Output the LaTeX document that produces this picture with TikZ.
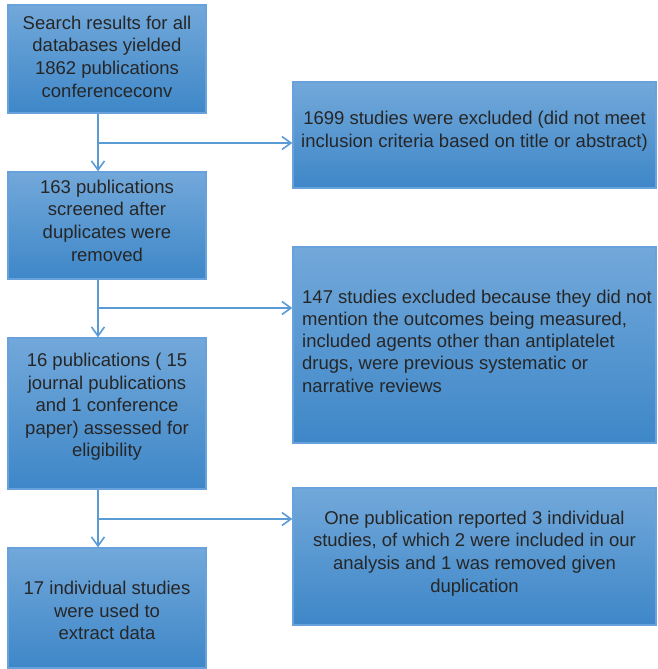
\documentclass[tikz,border=0pt]{standalone}
\usepackage{fontspec}
\setmainfont{Liberation Sans}
\usetikzlibrary{arrows.meta,shadings}
\definecolor{boxtop}{RGB}{114,168,218}
\definecolor{boxbot}{RGB}{62,135,200}
\definecolor{boxline}{RGB}{104,162,220}
\definecolor{arrcol}{RGB}{91,155,213}
\definecolor{txt}{RGB}{38,38,38}
\tikzset{
  box/.style={rectangle, draw=boxline, line width=1.4pt, top color=boxtop, bottom color=boxbot,
    inner sep=0pt},
  lbl/.style={inner sep=0pt, align=center, text=txt, font=\fontsize{18.5}{22.6}\selectfont},
  arr/.style={draw=arrcol, line width=1.8pt, -{Straight Barb[length=9pt,width=13pt,line width=1.6pt]}}
}
\begin{document}
\begin{tikzpicture}[x=1pt,y=-1pt]
\useasboundingbox (0,0) rectangle (658,669);
\node[box, minimum width=198, minimum height=108] (b1) at (107,59) {};
\node[lbl] (b1t) at (107,56.5)
  {Search results for all\\databases yielded\\1862 publications\\conferenceconv};
\node[box, minimum width=363, minimum height=106] (b2) at (474.5,135) {};
\node[lbl] (b2t) at (474.5,131.5)
  {1699 studies were excluded (did not meet\\inclusion criteria based on title or abstract)};
\node[box, minimum width=198, minimum height=107] (b3) at (107,225.5) {};
\node[lbl] (b3t) at (107,220.5)
  {163 publications\\screened after\\duplicates were\\removed};
\node[box, minimum width=363, minimum height=196] (b4) at (474.5,345) {};
\node[lbl, anchor=west, align=left, font=\fontsize{18.5}{22.3}\selectfont] (b4t) at (302,341)
  {147 studies excluded because they did not\\mention the outcomes being measured,\\included agents other than antiplatelet\\drugs, were previous systematic or\\narrative reviews};
\node[box, minimum width=198, minimum height=151] (b5) at (107,413.5) {};
\node[lbl] (b5t) at (107,407)
  {16 publications ( 15\\journal publications\\and 1 conference\\paper) assessed for\\eligibility};
\node[box, minimum width=363, minimum height=137] (b6) at (474.5,556.5) {};
\node[lbl] (b6t) at (474.5,553.5)
  {One publication reported 3 individual\\studies, of which 2 were included in our\\analysis and 1 was removed given\\duplication};
\node[box, minimum width=198, minimum height=120] (b7) at (107,608) {};
\node[lbl] (b7t) at (107,610.5)
  {17 individual studies\\were used to\\extract data};
\coordinate (j1) at (98,143);
\coordinate (j2) at (98,308);
\coordinate (j3) at (98,519);
\draw[arr] (b1.south -| j1) -- (b3.north -| j1);
\draw[arr] (j1) -- (j1 -| b2.west);
\draw[arr] (b3.south -| j2) -- (b5.north -| j2);
\draw[arr] (j2) -- (j2 -| b4.west);
\draw[arr] (b5.south -| j3) -- (b7.north -| j3);
\draw[arr] (j3) -- (j3 -| b6.west);
\end{tikzpicture}
\end{document}
